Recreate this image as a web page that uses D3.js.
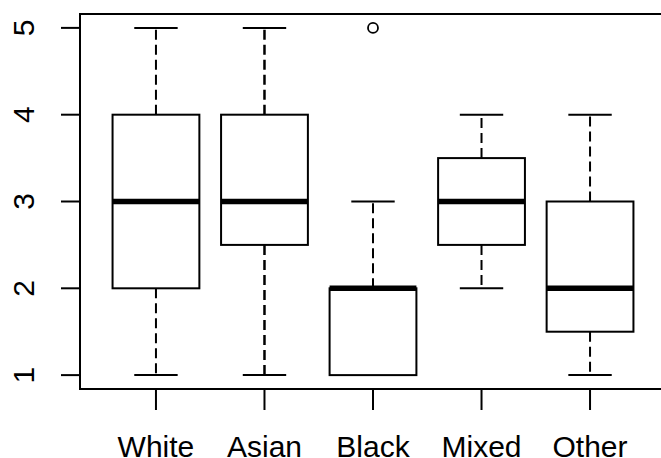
<!DOCTYPE html>
<html><head><meta charset="utf-8">
<script src="https://cdn.jsdelivr.net/npm/d3@7"></script>
<style>body{margin:0;background:#fff}svg{display:block}</style>
</head><body>
<svg id="c" width="661" height="458"></svg>
<script>
const categories = ["White", "Asian", "Black", "Mixed", "Other"];
const lowWhisker = [1, 1, 1, 2, 1];
const q1 = [2, 2.5, 1, 2.5, 1.5];
const medians = [3, 3, 2, 3, 2];
const q3 = [4, 4, 2, 3.5, 3];
const highWhisker = [5, 5, 3, 4, 4];
const outliers = [[], [], [5], [], []];
const yTicks = [1, 2, 3, 4, 5];

const svg = d3.select("#c");
const x = d3.scaleLinear().domain([0.3, 5.7]).range([80, 666]);
const y = d3.scaleLinear().domain([0.84, 5.16]).range([389, 14]);
const font = "'Liberation Sans', Arial, sans-serif";

// plot frame
svg.append("rect").attr("x", x(0.3)).attr("y", y(5.16))
  .attr("width", x(5.7) - x(0.3)).attr("height", y(0.84) - y(5.16))
  .attr("fill", "none").attr("stroke", "#000").attr("stroke-width", 2);

const data = categories.map((c, i) => ({c, i: i + 1, lo: lowWhisker[i], q1: q1[i], med: medians[i], q3: q3[i], hi: highWhisker[i], out: outliers[i]}));

const g = svg.append("g");
data.forEach(d => {
  const cx = x(d.i);
  const bw = x(d.i + 0.4) - x(d.i);
  const sw = x(d.i + 0.2) - x(d.i);
  // whiskers
  [[d.q3, d.hi], [d.q1, d.lo]].forEach(([a, b]) => {
    if (a !== b) {
      g.append("line").attr("x1", cx).attr("x2", cx).attr("y1", y(a)).attr("y2", y(b))
        .attr("stroke", "#000").attr("stroke-width", d.c === "Asian" ? 2.5 : 2).attr("stroke-dasharray", "10,5");
    }
    g.append("line").attr("x1", cx - sw).attr("x2", cx + sw).attr("y1", y(b)).attr("y2", y(b))
      .attr("stroke", "#000").attr("stroke-width", 2);
  });
  // box
  g.append("rect").attr("x", cx - bw).attr("width", 2 * bw)
    .attr("y", y(d.q3)).attr("height", y(d.q1) - y(d.q3))
    .attr("fill", "#fff").attr("stroke", "#000").attr("stroke-width", 2);
  // median
  g.append("line").attr("x1", cx - bw).attr("x2", cx + bw).attr("y1", y(d.med)).attr("y2", y(d.med))
    .attr("stroke", "#000").attr("stroke-width", 5.5);
  d.out.forEach(o => {
    g.append("circle").attr("cx", cx).attr("cy", y(o)).attr("r", 5)
      .attr("fill", "none").attr("stroke", "#000").attr("stroke-width", 1.8);
  });
});

// y axis
const ya = svg.append("g");
yTicks.forEach(t => {
  ya.append("line").attr("x1", 61).attr("x2", 80).attr("y1", y(t)).attr("y2", y(t))
    .attr("stroke", "#000").attr("stroke-width", 2);
  ya.append("text").attr("transform", `translate(33.5,${y(t)}) rotate(-90)`)
    .attr("text-anchor", "middle").attr("font-family", font).attr("font-size", 30)
    .attr("fill", "#000").text(t);
});

// x axis
const xa = svg.append("g");
data.forEach(d => {
  xa.append("line").attr("x1", x(d.i)).attr("x2", x(d.i)).attr("y1", 389).attr("y2", 410)
    .attr("stroke", "#000").attr("stroke-width", 2);
  xa.append("text").attr("x", x(d.i)).attr("y", 457)
    .attr("text-anchor", "middle").attr("font-family", font).attr("font-size", 30)
    .attr("fill", "#000").text(d.c);
});
</script>
</body></html>
